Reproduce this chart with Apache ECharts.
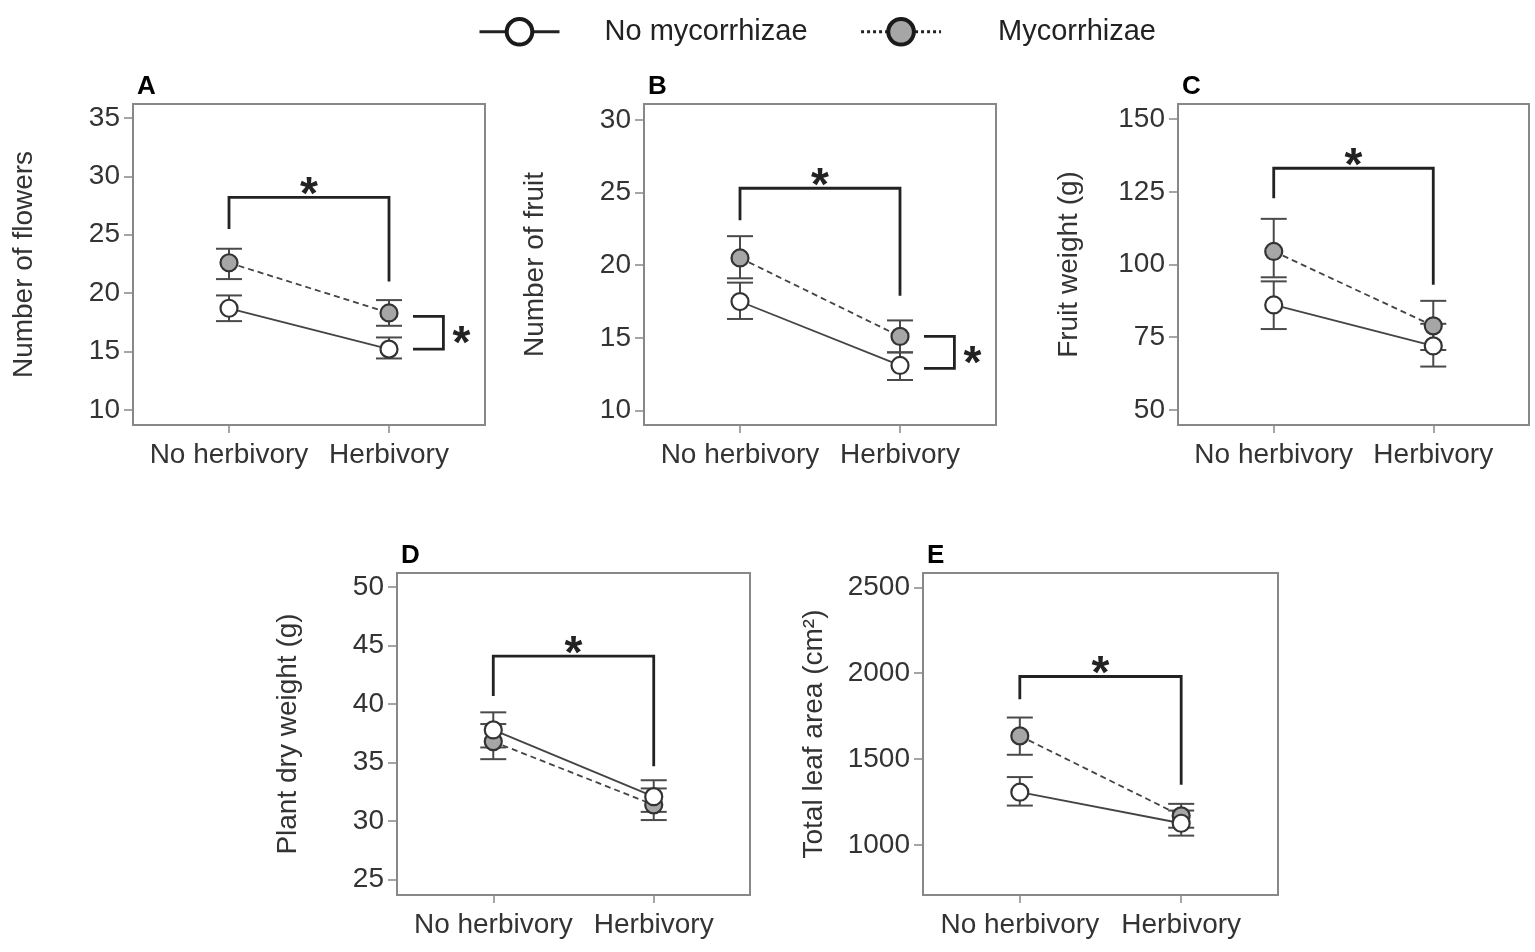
<!DOCTYPE html>
<html>
<head>
  <meta charset="utf-8">
  <title></title>
  <script src="https://cdn.jsdelivr.net/npm/echarts@6/dist/echarts.min.js" charset="utf-8"></script>
  <style media="screen">
    html, body { margin: 0; padding: 0; background: #fff; }
    #main { width: 1535px; height: 952px; }
  </style>
</head>
<body>
  <div id="main"></div>

  <script type="text/javascript">
    var cats = ['No herbivory', 'Herbivory'];
    var groupNames = ['No mycorrhizae', 'Mycorrhizae'];

    // A - number of flowers
    var flowersNoMyc = [18.7, 15.2], flowersNoMycLo = [17.6, 14.4], flowersNoMycHi = [19.8, 16.2];
    var flowersMyc = [22.6, 18.3], flowersMycLo = [21.2, 17.2], flowersMycHi = [23.8, 19.4];
    var flowersHerbSig = [25.5, 28.2, 21.0];   // left leg, top, right leg
    var flowersMycSig = [18.0, 15.2];          // side bracket top, bottom

    // B - number of fruit
    var fruitNoMyc = [17.5, 13.1], fruitNoMycLo = [16.3, 12.1], fruitNoMycHi = [18.8, 14.0];
    var fruitMyc = [20.5, 15.1], fruitMycLo = [19.1, 14.0], fruitMycHi = [22.0, 16.2];
    var fruitHerbSig = [23.1, 25.3, 17.9];
    var fruitMycSig = [15.1, 12.9];

    // C - fruit weight (g)
    var fwNoMyc = [86.1, 72.0], fwNoMycLo = [77.8, 64.9], fwNoMycHi = [94.2, 79.6];
    var fwMyc = [104.5, 78.9], fwMycLo = [95.6, 70.6], fwMycHi = [115.7, 87.5];
    var fwHerbSig = [122.8, 133.1, 93.0];

    // D - plant dry weight (g)
    var dwNoMyc = [37.8, 32.1], dwNoMycLo = [36.3, 30.8], dwNoMycHi = [39.3, 33.5];
    var dwMyc = [36.8, 31.4], dwMycLo = [35.3, 30.1], dwMycHi = [38.3, 32.8];
    var dwHerbSig = [40.7, 44.1, 34.7];

    // E - total leaf area (cm2)
    var laNoMyc = [1307, 1126], laNoMycLo = [1229, 1054], laNoMycHi = [1395, 1200];
    var laMyc = [1635, 1169], laMycLo = [1525, 1100], laMycHi = [1742, 1239];
    var laHerbSig = [1849, 1981, 1350];

    var yTicksA = [10, 15, 20, 25, 30, 35];
    var yTicksB = [10, 15, 20, 25, 30];
    var yTicksC = [50, 75, 100, 125, 150];
    var yTicksD = [25, 30, 35, 40, 45, 50];
    var yTicksE = [1000, 1500, 2000, 2500];

    var FONT = '"Liberation Sans", Arial, sans-serif';

    var panels = [
      { letter: 'A', name: 'Number of flowers', grid: { left: 133, top: 104, width: 352, height: 321 },
        min: 8.7, max: 36.2, ticks: yTicksA,
        noMyc: flowersNoMyc, noMycLo: flowersNoMycLo, noMycHi: flowersNoMycHi,
        myc: flowersMyc, mycLo: flowersMycLo, mycHi: flowersMycHi,
        herbSig: flowersHerbSig, mycSig: flowersMycSig },
      { letter: 'B', name: 'Number of fruit', grid: { left: 644, top: 104, width: 352, height: 321 },
        min: 9, max: 31.1, ticks: yTicksB,
        noMyc: fruitNoMyc, noMycLo: fruitNoMycLo, noMycHi: fruitNoMycHi,
        myc: fruitMyc, mycLo: fruitMycLo, mycHi: fruitMycHi,
        herbSig: fruitHerbSig, mycSig: fruitMycSig },
      { letter: 'C', name: 'Fruit weight (g)', grid: { left: 1178, top: 104, width: 351, height: 321 },
        min: 44.8, max: 155.2, ticks: yTicksC,
        noMyc: fwNoMyc, noMycLo: fwNoMycLo, noMycHi: fwNoMycHi,
        myc: fwMyc, mycLo: fwMycLo, mycHi: fwMycHi,
        herbSig: fwHerbSig, mycSig: null },
      { letter: 'D', name: 'Plant dry weight (g)', grid: { left: 397, top: 573, width: 353, height: 322 },
        min: 23.7, max: 51.2, ticks: yTicksD,
        noMyc: dwNoMyc, noMycLo: dwNoMycLo, noMycHi: dwNoMycHi,
        myc: dwMyc, mycLo: dwMycLo, mycHi: dwMycHi,
        herbSig: dwHerbSig, mycSig: null },
      { letter: 'E', name: 'Total leaf area (cm\u00B2)', grid: { left: 923, top: 573, width: 355, height: 322 },
        min: 708, max: 2584, ticks: yTicksE,
        noMyc: laNoMyc, noMycLo: laNoMycLo, noMycHi: laNoMycHi,
        myc: laMyc, mycLo: laMycLo, mycHi: laMycHi,
        herbSig: laHerbSig, mycSig: null }
    ];

    function errorRender(params, api) {
      var x = api.value(0);
      var top = api.coord([x, api.value(2)]);
      var bot = api.coord([x, api.value(1)]);
      var w = 13;
      var st = { stroke: '#4a4a4a', lineWidth: 2 };
      return { type: 'group', children: [
        { type: 'line', shape: { x1: top[0], y1: top[1], x2: bot[0], y2: bot[1] }, style: st },
        { type: 'line', shape: { x1: top[0] - w, y1: top[1], x2: top[0] + w, y2: top[1] }, style: st },
        { type: 'line', shape: { x1: bot[0] - w, y1: bot[1], x2: bot[0] + w, y2: bot[1] }, style: st }
      ] };
    }

    function herbSigRender(params, api) {
      var a = api.coord([1, api.value(0)]);
      var b = api.coord([1, api.value(1)]);
      var c = api.coord([2, api.value(1)]);
      var d = api.coord([2, api.value(2)]);
      return { type: 'group', children: [
        { type: 'polyline', shape: { points: [a, b, c, d] }, style: { stroke: '#222', lineWidth: 2.8, fill: null } },
        { type: 'text', x: (b[0] + c[0]) / 2, y: b[1] - 1,
          style: { text: '*', font: 'bold 46px ' + FONT, fill: '#222', align: 'center', verticalAlign: 'middle' } }
      ] };
    }

    function mycSigRender(params, api) {
      var a = api.coord([2.15, api.value(0)]);
      var b = api.coord([2.34, api.value(0)]);
      var c = api.coord([2.34, api.value(1)]);
      var d = api.coord([2.15, api.value(1)]);
      return { type: 'group', children: [
        { type: 'polyline', shape: { points: [a, b, c, d] }, style: { stroke: '#222', lineWidth: 2.8, fill: null } },
        { type: 'text', x: b[0] + 18, y: (b[1] + c[1]) / 2 + 13,
          style: { text: '*', font: 'bold 46px ' + FONT, fill: '#222', align: 'center', verticalAlign: 'middle' } }
      ] };
    }

    function pairs(vals) {
      return vals.map(function (v, i) { return [i + 1, v]; });
    }
    function bars(vals, lo, hi) {
      return vals.map(function (v, i) { return [i + 1, lo[i], hi[i]]; });
    }

    var option = {
      animation: false,
      backgroundColor: '#fff',
      textStyle: { fontFamily: FONT },
      title: [],
      grid: [],
      xAxis: [],
      yAxis: [],
      series: [],
      legend: {
        data: [
          { name: 'No mycorrhizae', textStyle: { padding: [0, 0, 0, 40] } },
          { name: 'Mycorrhizae', lineStyle: { type: 'dotted' }, textStyle: { padding: [0, 0, 0, 52] } }
        ],
        left: 473, top: 12,
        itemWidth: 80, itemHeight: 32, itemGap: 52,
        itemStyle: { borderWidth: 4, borderColor: '#1a1a1a' },
        lineStyle: { width: 3, color: '#222' },
        textStyle: { fontSize: 29, color: '#222', fontFamily: FONT },
        selectedMode: false
      }
    };

    panels.forEach(function (p, i) {
      option.title.push({
        text: p.letter, left: p.grid.left + 4, top: p.grid.top - 30, padding: 0,
        textStyle: { fontSize: 26, fontWeight: 'bold', color: '#000', fontFamily: FONT }
      });
      option.grid.push({
        left: p.grid.left, top: p.grid.top, width: p.grid.width, height: p.grid.height,
        show: true, borderColor: '#888', borderWidth: 2, backgroundColor: 'transparent', containLabel: false
      });
      option.xAxis.push({
        type: 'value', gridIndex: i, min: 0.4, max: 2.6,
        axisLine: { show: false },
        splitLine: { show: false },
        axisTick: { show: true, length: 8, customValues: [1, 2], lineStyle: { color: '#888', width: 1.5 } },
        axisLabel: { customValues: [1, 2], fontSize: 28, color: '#333', margin: 16,
          formatter: function (v) { return cats[Math.round(v) - 1]; } }
      });
      option.yAxis.push({
        type: 'value', gridIndex: i, min: p.min, max: p.max,
        name: p.name, nameLocation: 'middle', nameGap: 95,
        nameTextStyle: { fontSize: 28, color: '#333', fontFamily: FONT },
        axisLine: { show: false },
        splitLine: { show: false },
        axisTick: { show: true, length: 9, customValues: p.ticks, lineStyle: { color: '#888', width: 1.5 } },
        axisLabel: { customValues: p.ticks, fontSize: 28, color: '#333', margin: 13,
          formatter: function (v) { return String(v); } }
      });

      option.series.push({
        type: 'custom', name: 'errNoMyc' + i, xAxisIndex: i, yAxisIndex: i, z: 2,
        renderItem: errorRender, data: bars(p.noMyc, p.noMycLo, p.noMycHi), clip: false, silent: true
      });
      option.series.push({
        type: 'custom', name: 'errMyc' + i, xAxisIndex: i, yAxisIndex: i, z: 2,
        renderItem: errorRender, data: bars(p.myc, p.mycLo, p.mycHi), clip: false, silent: true
      });
      option.series.push({
        type: 'line', name: groupNames[1], xAxisIndex: i, yAxisIndex: i, z: 3,
        data: pairs(p.myc), symbol: 'circle', symbolSize: 17,
        itemStyle: { color: '#a6a6a6', borderColor: '#333', borderWidth: 2.2 },
        lineStyle: { color: '#444', width: 1.8, type: [6, 4] },
        emphasis: { disabled: true }, silent: true
      });
      option.series.push({
        type: 'line', name: groupNames[0], xAxisIndex: i, yAxisIndex: i, z: 4,
        data: pairs(p.noMyc), symbol: 'circle', symbolSize: 17,
        itemStyle: { color: '#fff', borderColor: '#333', borderWidth: 2.2 },
        lineStyle: { color: '#444', width: 1.8, type: 'solid' },
        emphasis: { disabled: true }, silent: true
      });
      option.series.push({
        type: 'custom', name: 'herbSig' + i, xAxisIndex: i, yAxisIndex: i, z: 5,
        renderItem: herbSigRender, data: [p.herbSig], clip: false, silent: true
      });
      if (p.mycSig) {
        option.series.push({
          type: 'custom', name: 'mycSig' + i, xAxisIndex: i, yAxisIndex: i, z: 5,
          renderItem: mycSigRender, data: [p.mycSig], clip: false, silent: true
        });
      }
    });

    var myChart = echarts.init(document.getElementById('main'));
    myChart.setOption(option);
  </script>
</body>
</html>
